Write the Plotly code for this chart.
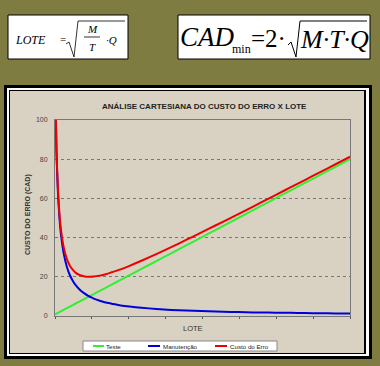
import plotly.graph_objects as go

# ---- data ----
LOTE = [1, 1.5, 2, 2.5, 3, 4, 5, 6, 7, 8, 9, 10, 11, 12, 13, 14, 16, 18, 20, 23, 26,
        30, 35, 40, 45, 50, 55, 60, 65, 70, 75, 80, 85, 90, 95, 100]
TESTE = [0.8, 1.2, 1.6, 2.0, 2.4, 3.2, 4.0, 4.8, 5.6, 6.4, 7.2, 8.0, 8.8, 9.6, 10.4, 11.2,
         12.8, 14.4, 16.0, 18.4, 20.8, 24.0, 28.0, 32.0, 36.0, 40.0, 44.0, 48.0, 52.0,
         56.0, 60.0, 64.0, 68.0, 72.0, 76.0, 80.0]
MANUTENCAO = [125, 83.3, 62.5, 50, 41.7, 31.3, 25, 20.8, 17.9, 15.6, 13.9, 12.5, 11.4,
              10.4, 9.6, 8.9, 7.8, 6.9, 6.3, 5.4, 4.8, 4.2, 3.6, 3.1, 2.8, 2.5, 2.3, 2.1,
              1.9, 1.8, 1.7, 1.6, 1.5, 1.4, 1.3, 1.25]
CUSTO_ERRO = [125.8, 84.5, 64.1, 52.0, 44.1, 34.5, 29.0, 25.6, 23.5, 22.0, 21.1, 20.5,
              20.2, 20.0, 20.0, 20.1, 20.6, 21.3, 22.3, 23.8, 25.6, 28.2, 31.6, 35.1,
              38.8, 42.5, 46.3, 50.1, 53.9, 57.8, 61.7, 65.6, 69.5, 73.4, 77.3, 81.25]
Y_TICKS = [0, 20, 40, 60, 80, 100]
SERIES_NAMES = ["Teste", "Manutenção", "Custo do Erro"]
TITLE = "ANÁLISE CARTESIANA DO CUSTO DO ERRO X LOTE"
Y_TITLE = "CUSTO DO ERRO (CAD)"
X_TITLE = "LOTE"

# ---- layout geometry ----
W, H = 380, 366
L, R, T, B = 55, 30, 120, 50
PW, PH = W - L - R, H - T - B

def px(x):
    return (x - L) / PW

def py(y):
    return (H - B - y) / PH

OLIVE = "#7e7c41"
BEIGE = "#d9d2c2"
GREEN = "#33ee33"
BLUE = "#0000dd"
RED = "#ee0000"
SANS = "Liberation Sans, Arial, sans-serif"
SERIF = "Liberation Serif, Times New Roman, serif"

fig = go.Figure()
for name, ys, col in [(SERIES_NAMES[0], TESTE, GREEN),
                      (SERIES_NAMES[1], MANUTENCAO, BLUE),
                      (SERIES_NAMES[2], CUSTO_ERRO, RED)]:
    fig.add_trace(go.Scatter(x=LOTE, y=ys, mode="lines", name=name,
                             line=dict(color=col, width=2, shape="spline", smoothing=0.6),
                             showlegend=False, hoverinfo="skip"))

shapes = []
def rect(x0, y0, x1, y1, fill, line_color=None, lw=0, layer="below"):
    shapes.append(dict(type="rect", xref="paper", yref="paper",
                       x0=px(x0), x1=px(x1), y0=py(y1), y1=py(y0),
                       fillcolor=fill, layer=layer,
                       line=dict(color=line_color or fill, width=lw)))

def seg(points, color="black", lw=1, layer="above"):
    path = "M " + " L ".join(f"{px(x):.5f},{py(y):.5f}" for x, y in points)
    shapes.append(dict(type="path", xref="paper", yref="paper", path=path,
                       line=dict(color=color, width=lw), layer=layer))

# chart frame
rect(4, 85, 372, 359, "black")
rect(7, 88, 369, 356, "white")
rect(9, 90, 366, 354, "black")
rect(10, 91, 364, 353, BEIGE)

# formula boxes
rect(8, 15, 128, 59, "white", "black", 1)
rect(178, 15, 370, 59, "white", "black", 1)
seg([(66, 44), (69, 42), (74, 57), (78, 21), (125, 21)], lw=0.8)
seg([(84, 37), (100, 37)], lw=0.8)
seg([(288, 45), (291, 42), (296, 57), (300, 21), (367, 21)], lw=1)

# legend box
rect(83, 341, 277, 351, "white", "#888888", 1, layer="above")
for x0, x1, col in [(93, 104, GREEN), (148, 160, BLUE), (215, 227, RED)]:
    seg([(x0, 346), (x1, 346)], color=col, lw=2)

annotations = []
def text(x, y, s, size, family=SANS, color="#222", xanchor="center", angle=0, bold=False):
    if bold:
        s = f"<b>{s}</b>"
    annotations.append(dict(x=px(x), y=py(y), xref="paper", yref="paper", text=s,
                            showarrow=False, xanchor=xanchor, yanchor="middle",
                            textangle=angle, font=dict(size=size, family=family, color=color)))

text(204, 106, TITLE, 8, bold=True)
text(28, 215, Y_TITLE, 7, angle=-90, bold=True, color="#333")
text(193, 328, X_TITLE, 7.5, color="#333")
text(104, 346, SERIES_NAMES[0], 6.2, xanchor="left")
text(161, 346, SERIES_NAMES[1], 6.2, xanchor="left")
text(228, 346, SERIES_NAMES[2], 6.2, xanchor="left")

# formulas
text(30, 40, "<i>LOTE</i>", 12, family=SERIF, color="black")
text(63, 39, "=", 11, family=SERIF, color="black")
text(92, 29, "<i>M</i>", 11, family=SERIF, color="black")
text(92, 47, "<i>T</i>", 11, family=SERIF, color="black")
text(111, 40, "<i>·Q</i>", 11, family=SERIF, color="black")
text(207, 37, "<i>CAD</i>", 27, family=SERIF, color="black")
text(230, 49, "min", 12, family=SERIF, color="black", xanchor="left")
text(249, 38, "=2·", 25, family=SERIF, color="black", xanchor="left")
text(334, 39, "<i>M·T·Q</i>", 26, family=SERIF, color="black")

fig.update_layout(
    width=W, height=H,
    margin=dict(l=L, r=R, t=T, b=B, pad=0),
    paper_bgcolor=OLIVE, plot_bgcolor="rgba(0,0,0,0)",
    shapes=shapes, annotations=annotations,
    showlegend=False,
    xaxis=dict(range=[LOTE[0], LOTE[-1]], showticklabels=False, showgrid=False,
               zeroline=False, showline=True, linecolor="#777", linewidth=1, mirror=True,
               ticks="outside", ticklen=2, tickcolor="#555", tick0=1, dtick=12.375),
    yaxis=dict(range=[0, 100], tickvals=Y_TICKS, showgrid=True, griddash="dot",
               gridcolor="#777", gridwidth=1, zeroline=False, showline=True,
               linecolor="#777", linewidth=1, mirror=True, ticks="",
               ticklabelstandoff=5, tickfont=dict(size=7, family=SANS, color="#444")),
)

fig.write_html("out.html", config={"displayModeBar": False},
               post_script="document.body.style.margin='0';document.body.style.background='" + OLIVE + "';")
